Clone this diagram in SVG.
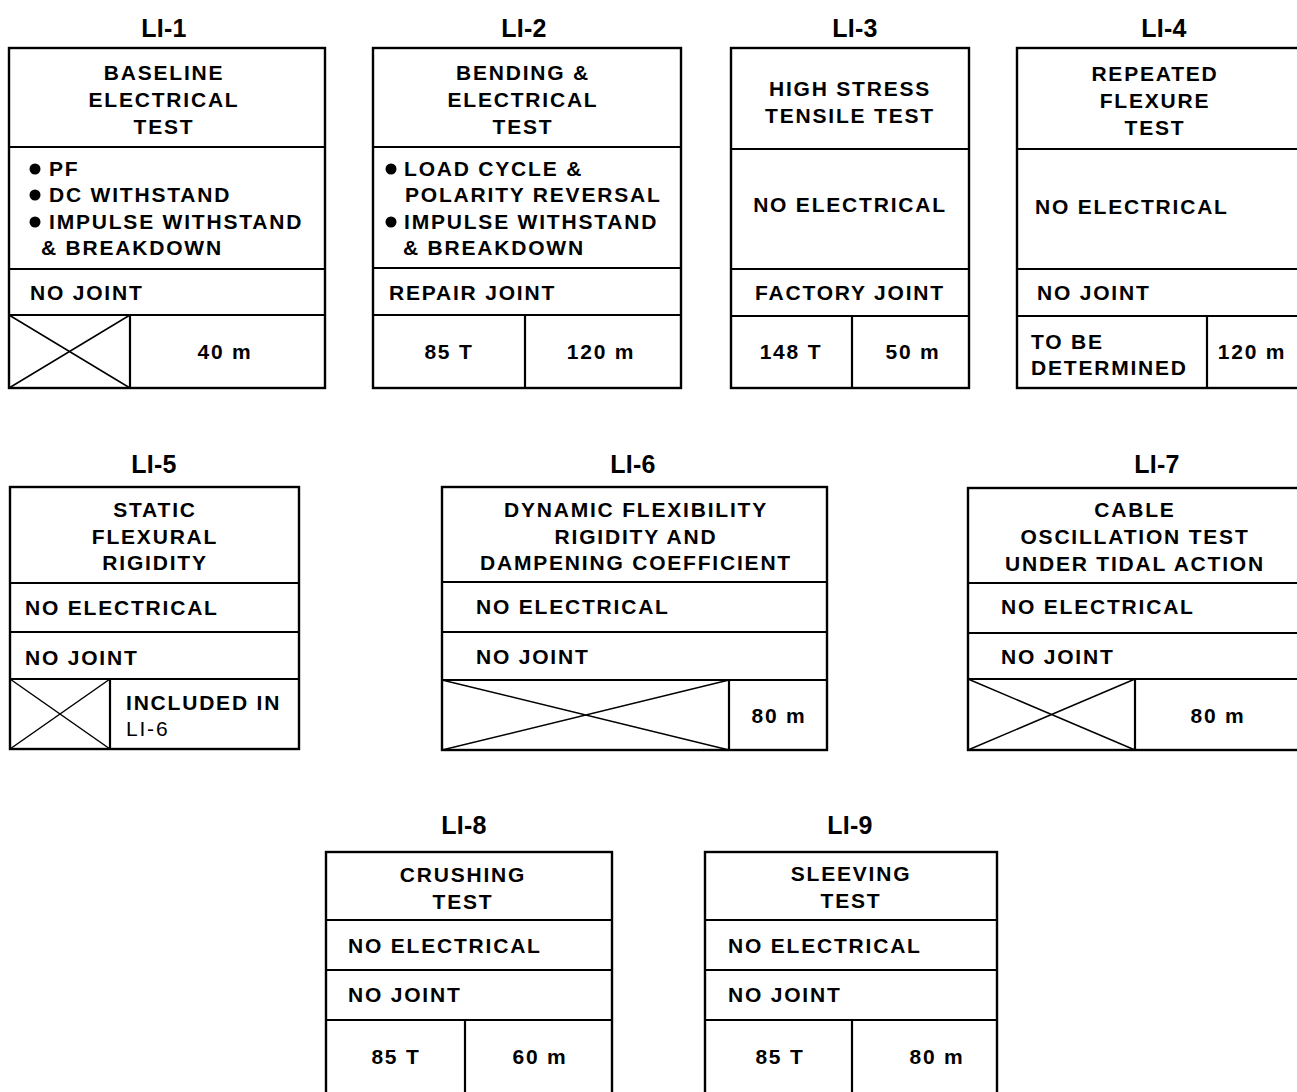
<svg xmlns="http://www.w3.org/2000/svg" width="1297" height="1092" viewBox="0 0 1297 1092">
<style>
.bx{fill:none;stroke:#000;stroke-width:2.4}
.dv{stroke:#000;stroke-width:2.2;fill:none}
.x{stroke:#000;stroke-width:1.5;fill:none}
text{font-family:"Liberation Sans",Arial,sans-serif;font-weight:bold;fill:#000;font-size:21px;letter-spacing:1.8px}
.t{font-size:25px;letter-spacing:0.3px;text-anchor:middle}
.c{text-anchor:middle}
.l{font-weight:normal}
</style>
<rect width="1297" height="1092" fill="#fff"/>

<g id="LI-1">
<text class="t" x="164" y="37">LI-1</text>
<rect class="bx" x="9" y="48" width="316" height="340"/>
<path class="dv" d="M9 147H325M9 269H325M9 315H325M130 315V388"/>
<path class="x" d="M9 315L130 388M9 388L130 315"/>
<text class="c" x="164" y="80">BASELINE</text>
<text class="c" x="164" y="107">ELECTRICAL</text>
<text class="c" x="164" y="134">TEST</text>
<circle cx="35" cy="169" r="5.5"/><text x="49" y="176">PF</text>
<circle cx="35" cy="195" r="5.5"/><text x="49" y="202">DC WITHSTAND</text>
<circle cx="35" cy="222" r="5.5"/><text x="49" y="229">IMPULSE WITHSTAND</text>
<text x="41" y="255">&amp; BREAKDOWN</text>
<text x="30" y="300">NO JOINT</text>
<text class="c" x="225" y="359">40 m</text>
</g>

<g id="LI-2">
<text class="t" x="524" y="37">LI-2</text>
<rect class="bx" x="373" y="48" width="308" height="340"/>
<path class="dv" d="M373 147H681M373 268H681M373 315H681M525 315V388"/>
<text class="c" x="523" y="80">BENDING &amp;</text>
<text class="c" x="523" y="107">ELECTRICAL</text>
<text class="c" x="523" y="134">TEST</text>
<circle cx="391" cy="169" r="5.5"/><text x="404" y="176">LOAD CYCLE &amp;</text>
<text x="405" y="202">POLARITY REVERSAL</text>
<circle cx="391" cy="222" r="5.5"/><text x="404" y="229">IMPULSE WITHSTAND</text>
<text x="403" y="255">&amp; BREAKDOWN</text>
<text x="389" y="300">REPAIR JOINT</text>
<text class="c" x="449" y="359">85 T</text>
<text class="c" x="601" y="359">120 m</text>
</g>

<g id="LI-3">
<text class="t" x="855" y="37">LI-3</text>
<rect class="bx" x="731" y="48" width="238" height="340"/>
<path class="dv" d="M731 149H969M731 269H969M731 316H969M852 316V388"/>
<text class="c" x="850" y="96">HIGH STRESS</text>
<text class="c" x="850" y="123">TENSILE TEST</text>
<text class="c" x="850" y="212">NO ELECTRICAL</text>
<text class="c" x="850" y="300">FACTORY JOINT</text>
<text class="c" x="791" y="359">148 T</text>
<text class="c" x="913" y="359">50 m</text>
</g>

<g id="LI-4">
<text class="t" x="1164" y="37">LI-4</text>
<rect class="bx" x="1017" y="48" width="290" height="340"/>
<path class="dv" d="M1017 149H1297M1017 269H1297M1017 316H1297M1207 316V388"/>
<text class="c" x="1155" y="81">REPEATED</text>
<text class="c" x="1155" y="108">FLEXURE</text>
<text class="c" x="1155" y="135">TEST</text>
<text x="1035" y="214">NO ELECTRICAL</text>
<text x="1037" y="300">NO JOINT</text>
<text x="1031" y="349">TO BE</text>
<text x="1031" y="375">DETERMINED</text>
<text class="c" x="1252" y="359">120 m</text>
</g>

<g id="LI-5">
<text class="t" x="154" y="473">LI-5</text>
<rect class="bx" x="10" y="487" width="289" height="262"/>
<path class="dv" d="M10 583H299M10 632H299M10 679H299M110 679V749"/>
<path class="x" d="M10 679L110 749M10 749L110 679"/>
<text class="c" x="155" y="517">STATIC</text>
<text class="c" x="155" y="544">FLEXURAL</text>
<text class="c" x="155" y="570">RIGIDITY</text>
<text x="25" y="615">NO ELECTRICAL</text>
<text x="25" y="665">NO JOINT</text>
<text x="126" y="710">INCLUDED IN</text>
<text class="l" x="126" y="736">LI-6</text>
</g>

<g id="LI-6">
<text class="t" x="633" y="473">LI-6</text>
<rect class="bx" x="442" y="487" width="385" height="263"/>
<path class="dv" d="M442 582H827M442 632H827M442 680H827M729 680V750"/>
<path class="x" d="M442 680L729 750M442 750L729 680"/>
<text class="c" x="636" y="517">DYNAMIC FLEXIBILITY</text>
<text class="c" x="636" y="544">RIGIDITY AND</text>
<text class="c" x="636" y="570">DAMPENING COEFFICIENT</text>
<text x="476" y="614">NO ELECTRICAL</text>
<text x="476" y="664">NO JOINT</text>
<text class="c" x="779" y="723">80 m</text>
</g>

<g id="LI-7">
<text class="t" x="1157" y="473">LI-7</text>
<rect class="bx" x="968" y="488" width="340" height="262"/>
<path class="dv" d="M968 583H1297M968 633H1297M968 679H1297M1135 679V750"/>
<path class="x" d="M968 679L1135 750M968 750L1135 679"/>
<text class="c" x="1135" y="517">CABLE</text>
<text class="c" x="1135" y="544">OSCILLATION TEST</text>
<text class="c" x="1135" y="571">UNDER TIDAL ACTION</text>
<text x="1001" y="614">NO ELECTRICAL</text>
<text x="1001" y="664">NO JOINT</text>
<text class="c" x="1218" y="723">80 m</text>
</g>

<g id="LI-8">
<text class="t" x="464" y="834">LI-8</text>
<rect class="bx" x="326" y="852" width="286" height="260"/>
<path class="dv" d="M326 920H612M326 970H612M326 1020H612M465 1020V1092"/>
<text class="c" x="463" y="882">CRUSHING</text>
<text class="c" x="463" y="909">TEST</text>
<text x="348" y="953">NO ELECTRICAL</text>
<text x="348" y="1002">NO JOINT</text>
<text class="c" x="396" y="1064">85 T</text>
<text class="c" x="540" y="1064">60 m</text>
</g>

<g id="LI-9">
<text class="t" x="850" y="834">LI-9</text>
<rect class="bx" x="705" y="852" width="292" height="260"/>
<path class="dv" d="M705 920H997M705 970H997M705 1020H997M852 1020V1092"/>
<text class="c" x="851" y="881">SLEEVING</text>
<text class="c" x="851" y="908">TEST</text>
<text x="728" y="953">NO ELECTRICAL</text>
<text x="728" y="1002">NO JOINT</text>
<text class="c" x="780" y="1064">85 T</text>
<text class="c" x="937" y="1064">80 m</text>
</g>
</svg>
